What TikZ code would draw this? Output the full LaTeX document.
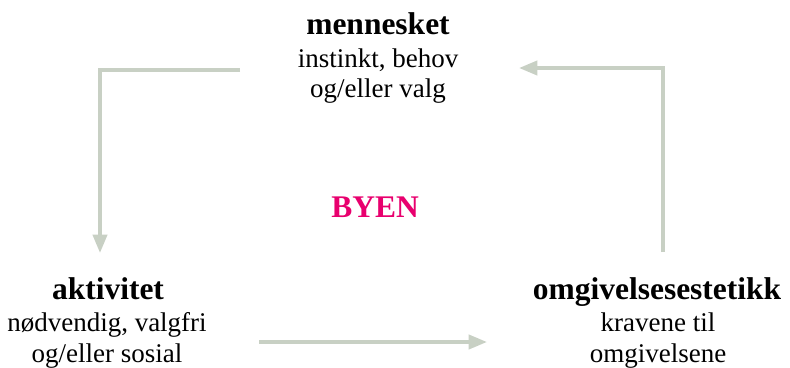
\documentclass[tikz,border=0pt]{standalone}
\usepackage{fontspec}
\setmainfont{Liberation Serif}
\usepackage{tikz}
\usetikzlibrary{arrows.meta}
\usetikzlibrary{positioning}
\definecolor{mgreen}{RGB}{200, 208, 196}
\definecolor{mpink}{RGB}{232, 0, 110}
\tikzset{title/.style = {anchor=base, inner sep=0pt, font=\fontsize{22.4}{22}\selectfont\bfseries},
         desc/.style = {anchor=base, inner sep=0pt, align=center, font=\fontsize{19.2}{22}\selectfont},
         flow/.style = {mgreen, line width=2.6pt, -{Triangle[length=13pt, width=10pt]}}}

\begin{document}
\begin{tikzpicture}
    \useasboundingbox (0, 0) rectangle (19.75, 9.175);

    \node [title] (mennesket) at (9.45, 8.3) {mennesket};
    \node [desc] (behov) at (9.45, 6.725) {instinkt, behov\\ og/eller valg};
    \node [title] (aktivitet) at (2.7, 1.7) {aktivitet};
    \node [desc] (valgfri) at (2.675, 0.125) {nødvendig, valgfri\\og/eller sosial};
    \node [title] (estetikk) at (16.425, 1.7) {omgivelsesestetikk};
    \node [desc] (kravene) at (16.45, 0.125) {kravene til\\omgivelsene};
    \node [title, mpink] (byen) at (9.375, 3.75) {BYEN};

    \coordinate (a1) at (6, 7.425);
    \coordinate (a2) at (2.5, 2.85);
    \coordinate (b1) at (16.575, 2.875);
    \coordinate (b2) at (12.975, 7.475);
    \coordinate (c1) at (6.475, 0.625);
    \coordinate (c2) at (12.175, 0.625);

    \draw [flow] (a1) -| (a2);
    \draw [flow] (b1) |- (b2);
    \draw [flow] (c1) -- (c2);
  \end{tikzpicture}
\end{document}
